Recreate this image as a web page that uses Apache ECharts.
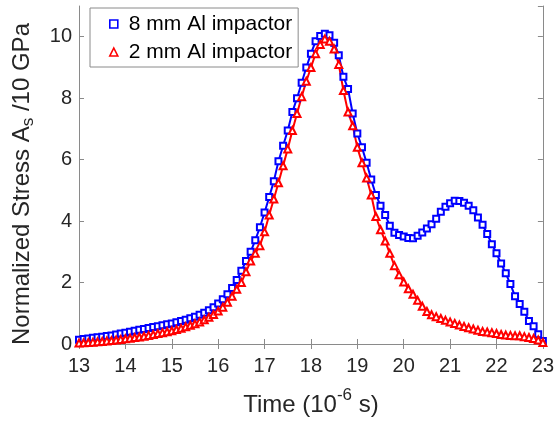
<!DOCTYPE html>
<html><head><meta charset="utf-8">
<script src="https://cdn.jsdelivr.net/npm/echarts@6/dist/echarts.min.js"></script>
<style>html,body{margin:0;padding:0;background:#fff}#c{width:557px;height:422px}</style>
</head><body><div id="c"></div>
<script>
var times = [13.0,13.1,13.2,13.3,13.4,13.5,13.6,13.7,13.8,13.9,
14.0,14.1,14.2,14.3,14.4,14.5,14.6,14.7,14.8,14.9,
15.0,15.1,15.2,15.3,15.4,15.5,15.6,15.7,15.8,15.9,
16.0,16.1,16.2,16.3,16.4,16.5,16.6,16.7,16.8,16.9,
17.0,17.1,17.2,17.3,17.4,17.5,17.6,17.7,17.8,17.9,
18.0,18.1,18.2,18.3,18.4,18.5,18.6,18.7,18.8,18.9,
19.0,19.1,19.2,19.3,19.4,19.5,19.6,19.7,19.8,19.9,
20.0,20.1,20.2,20.3,20.4,20.5,20.6,20.7,20.8,20.9,
21.0,21.1,21.2,21.3,21.4,21.5,21.6,21.7,21.8,21.9,
22.0,22.1,22.2,22.3,22.4,22.5,22.6,22.7,22.8,22.9,23.0];

var stress8mm = [0.14,0.16,0.18,0.20,0.22,0.24,0.26,0.28,0.31,0.34,
0.37,0.40,0.43,0.46,0.49,0.52,0.55,0.58,0.61,0.64,
0.67,0.71,0.75,0.79,0.84,0.89,0.95,1.02,1.10,1.20,
1.32,1.46,1.62,1.82,2.08,2.38,2.70,3.00,3.38,3.80,
4.28,4.78,5.30,5.95,6.45,6.95,7.55,8.00,8.50,9.00,
9.45,9.85,10.02,10.10,10.05,9.80,9.40,8.70,8.30,7.50,
6.85,6.40,5.90,5.35,4.85,4.50,4.20,3.85,3.62,3.55,
3.50,3.45,3.44,3.52,3.63,3.76,3.90,4.08,4.30,4.47,
4.58,4.66,4.65,4.60,4.50,4.35,4.12,3.88,3.58,3.25,
2.95,2.62,2.30,1.95,1.55,1.30,1.05,0.75,0.58,0.32,0.10];

var stress2mm = [0.03,0.04,0.05,0.06,0.07,0.08,0.10,0.11,0.13,0.15,
0.17,0.19,0.21,0.23,0.25,0.28,0.31,0.34,0.37,0.40,
0.43,0.47,0.51,0.56,0.61,0.66,0.72,0.79,0.87,0.96,
1.07,1.20,1.36,1.55,1.78,2.00,2.35,2.70,2.95,3.20,
3.65,4.20,4.72,5.25,5.80,6.35,6.95,7.50,8.05,8.55,
9.00,9.45,9.75,9.93,9.85,9.60,9.10,8.25,7.55,7.10,
6.40,5.90,5.40,4.85,4.15,3.72,3.35,2.95,2.55,2.25,
2.02,1.80,1.62,1.42,1.23,1.06,0.95,0.89,0.83,0.77,
0.72,0.67,0.62,0.57,0.53,0.49,0.45,0.41,0.39,0.37,
0.34,0.31,0.29,0.28,0.27,0.27,0.24,0.21,0.18,0.13,0.05];

var seriesNames = ['8 mm Al impactor', '2 mm Al impactor'];
var xMin = 13, xMax = 23, xStep = 1;
var yMin = 0, yMax = 11, yStep = 2;

function pairs(v){ return times.map(function(t,i){ return [t, v[i]]; }); }

var FONT = '"Liberation Sans", Arial, sans-serif';
var TXT = '#262626';
var AX = '#8a8a8a';

var chart = echarts.init(document.getElementById('c'), null, {renderer:'canvas'});
var baseX = {type:'value', min:xMin, max:xMax, interval:xStep,
  axisLine:{show:true, lineStyle:{color:AX, width:1}},
  axisTick:{show:true, inside:true, length:5, lineStyle:{color:AX}},
  splitLine:{show:false}};
var baseY = {type:'value', min:yMin, max:yMax, interval:yStep,
  axisLine:{show:true, lineStyle:{color:AX, width:1}},
  axisTick:{show:true, inside:true, length:5, lineStyle:{color:AX}},
  splitLine:{show:false}};

chart.setOption({
  animation:false,
  backgroundColor:'#fff',
  grid:{left:79, right:14, top:6, bottom:77, containLabel:false},
  xAxis:[
    Object.assign({}, baseX, {position:'bottom',
      axisLabel:{color:TXT, fontSize:20, fontFamily:FONT, margin:12},
      name:'{a|Time (10}{sup|-6}{a| s)}', nameLocation:'middle', nameGap:43,
      nameTextStyle:{rich:{
        a:{fontSize:24, fontFamily:FONT, color:TXT, lineHeight:36},
        sup:{fontSize:17, fontFamily:FONT, color:TXT, lineHeight:17, verticalAlign:'top'}
      }}}),
    Object.assign({}, baseX, {position:'top', axisLabel:{show:false}})
  ],
  yAxis:[
    Object.assign({}, baseY, {position:'left',
      axisLabel:{color:TXT, fontSize:20, fontFamily:FONT, margin:7, showMaxLabel:false},
      name:'{a|Normalized Stress A}{sub|s}{a| /10 GPa}', nameLocation:'middle', nameGap:42,
      nameTextStyle:{padding:[0,18,0,0], rich:{
        a:{fontSize:24, fontFamily:FONT, color:TXT, lineHeight:30},
        sub:{fontSize:17, fontFamily:FONT, color:TXT, lineHeight:17, verticalAlign:'bottom'}
      }}}),
    Object.assign({}, baseY, {position:'right', axisLabel:{show:false}})
  ],
  legend:{
    left:90, top:8, orient:'vertical',
    backgroundColor:'#fff', borderColor:'#8a8a8a', borderWidth:1,
    padding:[4,6,3,19], itemGap:4, itemWidth:8, itemHeight:8,
    textStyle:{fontSize:21, fontFamily:FONT, color:'#000', lineHeight:24, padding:[0,0,0,6]},
    data:[
      {name:seriesNames[0], icon:'rect', itemStyle:{color:'#fff', borderColor:'#0000ff', borderWidth:1.6}},
      {name:seriesNames[1], icon:'triangle', itemStyle:{color:'#fff', borderColor:'#ff0000', borderWidth:1.6}}
    ]
  },
  series:[
    {name:seriesNames[0], type:'line', data:pairs(stress8mm), xAxisIndex:0, yAxisIndex:0,
      symbol:'emptyRect', symbolSize:6, showAllSymbol:true,
      lineStyle:{color:'#0000ff', width:2}, itemStyle:{color:'#0000ff', borderWidth:1.5}},
    {name:seriesNames[1], type:'line', data:pairs(stress2mm), xAxisIndex:0, yAxisIndex:0,
      symbol:'emptyTriangle', symbolSize:7, showAllSymbol:true,
      lineStyle:{color:'#ff0000', width:2}, itemStyle:{color:'#ff0000', borderWidth:1.5}}
  ]
});
</script></body></html>
